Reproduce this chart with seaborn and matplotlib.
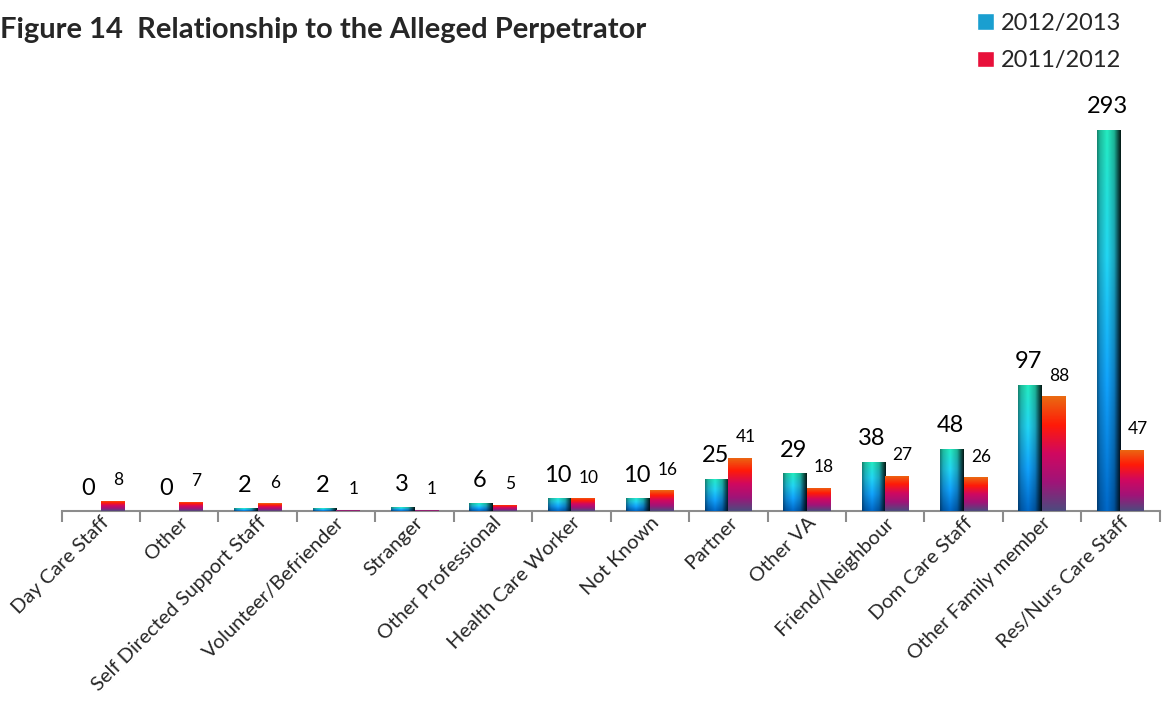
import numpy as np
import pandas as pd
import matplotlib
matplotlib.use("Agg")
import matplotlib.pyplot as plt
import seaborn as sns
from matplotlib.colors import to_rgb
from matplotlib.patches import Patch

categories = ["Day Care Staff", "Other", "Self Directed Support Staff", "Volunteer/Befriender",
              "Stranger", "Other Professional", "Health Care Worker", "Not Known", "Partner",
              "Other VA", "Friend/Neighbour", "Dom Care Staff", "Other Family member",
              "Res/Nurs Care Staff"]
y2013 = [0, 0, 2, 2, 3, 6, 10, 10, 25, 29, 38, 48, 97, 293]
y2012 = [8, 7, 6, 1, 1, 5, 10, 16, 41, 18, 27, 26, 88, 47]
series = ["2012/2013", "2011/2012"]

df = pd.DataFrame({
    "category": categories * 2,
    "series": [series[0]] * len(categories) + [series[1]] * len(categories),
    "count": y2013 + y2012,
})

sns.set_theme(style="white")
plt.rcParams["font.family"] = ["Lato", "DejaVu Sans"]


def gradient(stops, shade, n=80, m=40):
    # vertical colour ramp (top -> bottom) times a horizontal shading profile
    pos = np.linspace(0, 1, len(stops))
    cols = np.array([to_rgb(c) for c in stops])
    t = np.linspace(0, 1, n)
    vert = np.stack([np.interp(t, pos, cols[:, k]) for k in range(3)], axis=1)
    sx = np.linspace(0, 1, m)
    hp = np.interp(sx, [p for p, _ in shade], [s for _, s in shade])
    img = vert[:, None, :] * hp[None, :, None]
    return np.clip(img, 0, 1)


blue_img = gradient(["#22dcb4", "#20c8e4", "#1098ec", "#0062bc"],
                    [(0, 0.6), (0.12, 0.85), (0.42, 1.08), (0.72, 0.82), (0.88, 0.4), (1, 0.12)])
red_img = gradient(["#ea6a12", "#ff1a08", "#d00860", "#a01478", "#4e4a7e"],
                   [(0, 1.0), (1, 1.0)])

fig = plt.figure(figsize=(11.62, 7.02), dpi=100)
ax = fig.add_axes([0.053, 0.272, 0.945, 0.586])
sns.barplot(data=df, x="category", y="count", hue="series", hue_order=series,
            order=categories, width=0.6, palette=["#1a9fd0", "#e8103a"],
            saturation=1, legend=False, ax=ax)

for cont, img, vals, fs, dx in zip(ax.containers, [blue_img, red_img], [y2013, y2012],
                                   [17, 12.5], [-1, 4]):
    for bar, v in zip(cont, vals):
        x0, w, h = bar.get_x(), bar.get_width(), bar.get_height()
        if h > 0:
            im = ax.imshow(img, extent=[x0, x0 + w, 0, h], aspect="auto", zorder=3)
            im.set_clip_path(bar)
        ax.annotate(str(v), (x0 + w / 2, h), xytext=(dx, 9), textcoords="offset points",
                    ha="center", va="bottom", fontsize=fs, color="black", zorder=4)

ax.set_xlim(-0.5, len(categories) - 0.5)
ax.set_ylim(0, 316)
ax.set_yticks([])
ax.set_xlabel("")
ax.set_ylabel("")
ax.set_xticks(range(len(categories)))
ax.set_xticklabels(categories, rotation=45, ha="right", va="top",
                   rotation_mode="anchor", fontsize=14.5)
ax.set_xticks(np.arange(-0.5, len(categories), 1), minor=True)
ax.tick_params(axis="x", which="major", length=0, pad=2)
ax.tick_params(axis="x", which="minor", length=8, width=1.5, color="#8c8c8c",
               direction="out", bottom=True)
for s in ["top", "left", "right"]:
    ax.spines[s].set_visible(False)
ax.spines["bottom"].set_color("#8c8c8c")
ax.spines["bottom"].set_linewidth(1.5)

handles = [Patch(facecolor="#1a9fd0"), Patch(facecolor="#e8103a")]
fig.legend(handles, series, loc="upper right", bbox_to_anchor=(0.983, 1.012),
           frameon=False, fontsize=17, handlelength=0.7, handleheight=0.7,
           handletextpad=0.3, labelspacing=0.7)

fig.text(0.0, 0.957, "Figure 14  Relationship to the Alleged Perpetrator",
         fontsize=21, fontweight="bold", ha="left", va="center")

fig.savefig("out.png", dpi=100)
